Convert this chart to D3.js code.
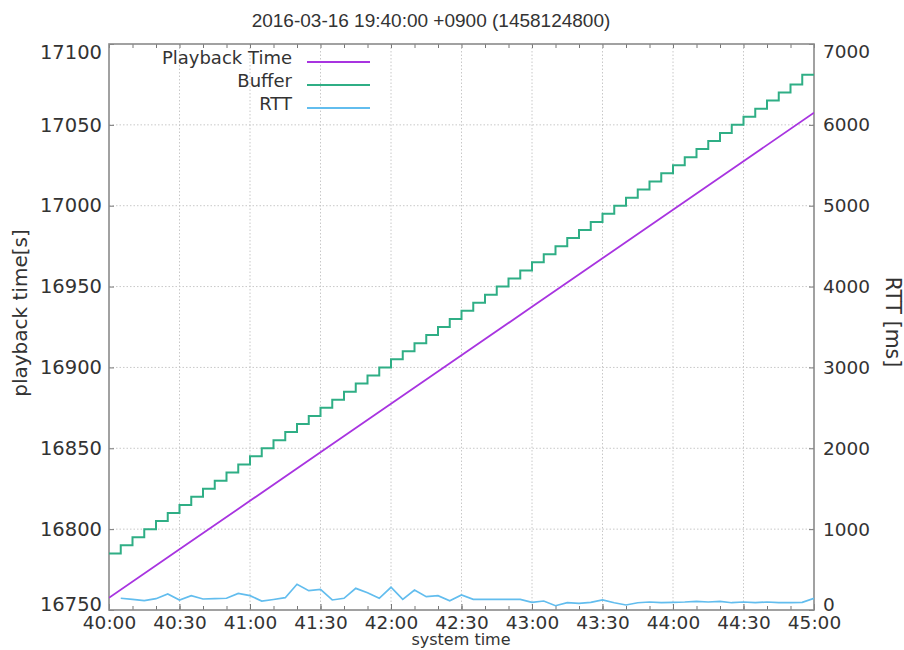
<!DOCTYPE html>
<html><head><meta charset="utf-8">
<script src="https://cdn.jsdelivr.net/npm/d3@7"></script>
<style>body{margin:0;background:#fff;} text{fill:#333;}</style>
</head><body>
<svg id="c" width="904" height="650"></svg>
<script>
// ---- data (seconds after 19:40:00) ----
const title = "2016-03-16 19:40:00 +0900 (1458124800)";
const xTickValues = [0,30,60,90,120,150,180,210,240,270,300];
const xTickLabels = ["40:00","40:30","41:00","41:30","42:00","42:30","43:00","43:30","44:00","44:30","45:00"];
const yLeftTicks = [16750,16800,16850,16900,16950,17000,17050,17100];
const yRightTicks = [0,1000,2000,3000,4000,5000,6000,7000];

const playbackTimes = [0,30,60,90,120,150,180,210,240,270,300];
const playbackValues = [16757.5,16787.5,16817.5,16847.5,16877.5,16907.5,16937.5,16967.5,16997.5,17027.5,17057.5];

const bufferTimes = [0,5,10,15,20,25,30,35,40,45,50,55,60,65,70,75,80,85,90,95,100,105,110,115,120,125,130,135,140,145,150,155,160,165,170,175,180,185,190,195,200,205,210,215,220,225,230,235,240,245,250,255,260,265,270,275,280,285,290,295,300];
const bufferValues = [16785,16790,16795,16800,16805,16810,16815,16820,16825,16830,16835,16840,16845,16850,16855,16860,16865,16870,16875,16880,16885,16890,16895,16900,16905,16910,16915,16920,16925,16930,16935,16940,16945,16950,16955,16960,16965,16970,16975,16980,16985,16990,16995,17000,17005,17010,17015,17020,17025,17030,17035,17040,17045,17050,17055,17060,17065,17070,17075,17081,17081];

const rttTimes = [5,10,15,20,25,30,35,40,45,50,55,60,65,70,75,80,85,90,95,100,105,110,115,120,125,130,135,140,145,150,155,160,165,170,175,180,185,190,195,200,205,210,215,220,225,230,235,240,245,250,255,260,265,270,275,280,285,290,295,300];
const rttValues = [145,132,115,140,198,124,177,136,140,145,206,177,111,130,152,318,239,256,124,145,268,214,145,281,132,247,165,177,115,186,132,132,132,132,132,95,111,53,90,83,95,124,90,62,90,99,90,95,99,107,99,107,90,99,90,99,90,90,95,145];

const seriesNames = ["Playback Time","Buffer","RTT"];
const seriesColors = ["#a834e0","#2fae85","#62bdee"];

// ---- layout ----
const L=109, R=814, T=44, B=610;
const svg = d3.select("#c");
const x = d3.scaleLinear().domain([0,300]).range([L,R]);
const yL = d3.scaleLinear().domain([16750,17100]).range([B,T]);
const yR = d3.scaleLinear().domain([0,7000]).range([B,T]);
const font = "DejaVu Sans";

// grid
const grid = svg.append("g").attr("stroke","#c8c8c8").attr("stroke-width",1).attr("stroke-dasharray","1.5,2");
xTickValues.slice(1,-1).forEach(v=>grid.append("line").attr("x1",x(v)).attr("x2",x(v)).attr("y1",T).attr("y2",B));
yLeftTicks.slice(1,-1).forEach(v=>grid.append("line").attr("x1",L).attr("x2",R).attr("y1",yL(v)).attr("y2",yL(v)));

// axes
const minorX = d3.range(0,301,10);
function styleAxis(g, fs){ g.select(".domain").remove(); g.selectAll("line").attr("stroke","#777"); g.selectAll("text").attr("font-family",font).attr("font-size",fs||18.5).attr("fill","#333"); }
svg.append("g").attr("transform",`translate(0,${B})`).call(d3.axisBottom(x).tickValues(minorX).tickSize(-4).tickFormat(()=>"")).call(styleAxis);
svg.append("g").attr("transform",`translate(0,${T})`).call(d3.axisTop(x).tickValues(minorX).tickSize(-4).tickFormat(()=>"")).call(styleAxis);
svg.append("g").attr("transform",`translate(0,${B})`).call(d3.axisBottom(x).tickValues(xTickValues).tickSize(-6).tickPadding(6).tickFormat((d,i)=>xTickLabels[i])).call(g=>styleAxis(g,18.5));
const gl = svg.append("g").attr("transform",`translate(${L},0)`).call(d3.axisLeft(yL).tickValues(yLeftTicks).tickSize(-5).tickPadding(7).tickFormat(d3.format("d"))).call(g=>styleAxis(g,19.5));
const gr = svg.append("g").attr("transform",`translate(${R},0)`).call(d3.axisRight(yR).tickValues(yRightTicks).tickSize(-5).tickPadding(9).tickFormat(d3.format("d"))).call(g=>styleAxis(g,18.5));
// nudge end labels inward like the reference
[gl,gr].forEach(g=>{
  const t = g.selectAll(".tick text");
  const n = t.size();
  t.filter((d,i)=>i===0).attr("dy","0em").attr("y",0);
  t.filter((d,i)=>i===n-1).attr("dy","0.72em").attr("y",0);
});

// frame
svg.append("rect").attr("x",L).attr("y",T).attr("width",R-L).attr("height",B-T).attr("fill","none").attr("stroke","#8a8a8a").attr("stroke-width",1.6);

// lines
svg.append("clipPath").attr("id","cp").append("rect").attr("x",L).attr("y",T-2).attr("width",R-L).attr("height",B-T+4);
const pg = svg.append("g").attr("clip-path","url(#cp)");
const lineP = d3.line().x((d,i)=>x(playbackTimes[i])).y(d=>yL(d));
pg.append("path").attr("d",lineP(playbackValues)).attr("fill","none").attr("stroke",seriesColors[0]).attr("stroke-width",1.8);
const lineB = d3.line().curve(d3.curveStepAfter).x((d,i)=>x(bufferTimes[i])).y(d=>yL(d));
pg.append("path").attr("d",lineB(bufferValues)).attr("fill","none").attr("stroke",seriesColors[1]).attr("stroke-width",2);
const lineR = d3.line().x((d,i)=>x(rttTimes[i])).y(d=>yR(d));
pg.append("path").attr("d",lineR(rttValues)).attr("fill","none").attr("stroke",seriesColors[2]).attr("stroke-width",1.7);

// legend
const legY=[62,85,108];
seriesNames.forEach((n,i)=>{
  svg.append("text").attr("x",292).attr("y",legY[i]+2).attr("text-anchor","end").attr("font-family",font).attr("font-size",18).text(n);
  svg.append("line").attr("x1",307).attr("x2",370).attr("y1",legY[i]).attr("y2",legY[i]).attr("stroke",seriesColors[i]).attr("stroke-width",1.8);
});

// titles
svg.append("text").attr("x",431).attr("y",27).attr("text-anchor","middle").attr("font-family","Liberation Sans").attr("font-size",19).text(title);
svg.append("text").attr("x",461).attr("y",645).attr("text-anchor","middle").attr("font-family",font).attr("font-size",16).text("system time");
svg.append("text").attr("transform","translate(27,313) rotate(-90)").attr("text-anchor","middle").attr("font-family",font).attr("font-size",20).text("playback time[s]");
svg.append("text").attr("transform","translate(886,322) rotate(90)").attr("text-anchor","middle").attr("font-family",font).attr("font-size",20.5).text("RTT [ms]");
</script>
</body></html>
